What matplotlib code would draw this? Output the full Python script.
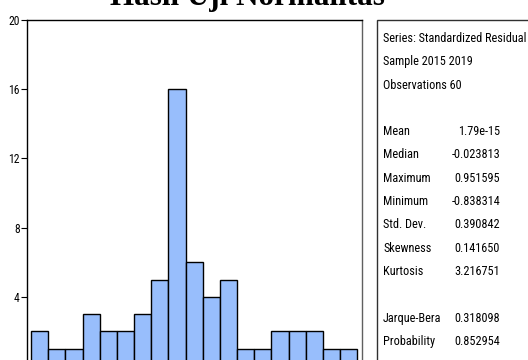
import matplotlib
matplotlib.use("Agg")
import matplotlib.pyplot as plt
from matplotlib import font_manager
from matplotlib.patches import Rectangle

# Histogram of standardized residuals (bin lower edges, width 0.1)
bin_lower = [-0.9, -0.8, -0.7, -0.6, -0.5, -0.4, -0.3, -0.2, -0.1, 0.0,
             0.1, 0.2, 0.3, 0.4, 0.5, 0.6, 0.7, 0.8, 0.9]
counts = [2, 1, 1, 3, 2, 2, 3, 5, 16, 6, 4, 5, 1, 1, 2, 2, 2, 1, 1]
bin_width = 0.1

y_ticks = [0, 4, 8, 12, 16, 20]
x_ticks = [-0.75, -0.50, -0.25, 0.00, 0.25, 0.50, 0.75, 1.00]

title = "Hasil Uji Normalitas"
header_lines = ["Series: Standardized Residual", "Sample 2015 2019", "Observations 60"]
stat_names = ["Mean", "Median", "Maximum", "Minimum", "Std. Dev.", "Skewness", "Kurtosis"]
stat_values = ["1.79e-15", "-0.023813", "0.951595", "-0.838314", "0.390842", "0.141650", "3.216751"]
test_names = ["Jarque-Bera", "Probability"]
test_values = ["0.318098", "0.852954"]

# Pick a condensed sans face if one is installed
installed = {f.name for f in font_manager.fontManager.ttflist}
narrow = None
for cand in ["Liberation Sans Narrow", "Arial Narrow", "Roboto Condensed",
             "Open Sans Condensed", "DejaVu Sans Condensed"]:
    if cand in installed:
        narrow = cand
        break
if narrow is None:
    narrow = "Liberation Sans"
    scale = 0.78
elif narrow == "Liberation Sans Narrow" or narrow == "Arial Narrow":
    scale = 1.0
else:
    scale = 0.88

W, H = 528, 360
fig = plt.figure(figsize=(W / 100, H / 100), dpi=100)
fig.patch.set_facecolor("white")

ax = fig.add_axes([27.3 / W, (H - 366) / H, (361.7 - 27.3) / W, (366 - 20) / H])
ax.bar(bin_lower, counts, width=bin_width, align="edge",
       color="#98BEFC", edgecolor="black", linewidth=1.0, zorder=2)
ax.set_xlim(-0.9215, 1.0256)
ax.set_ylim(0, 20)
ax.set_yticks(y_ticks)
ax.set_yticklabels([str(v) for v in y_ticks], fontfamily=narrow, fontsize=9.5 * scale)
ax.set_xticks(x_ticks)
ax.set_xticklabels([])
ax.tick_params(axis="y", direction="out", length=4, width=0.8, pad=1.5)
ax.tick_params(axis="x", direction="out", length=4, width=0.8)
for side in ["left", "top", "bottom"]:
    ax.spines[side].set_color("black")
    ax.spines[side].set_linewidth(1.0)
ax.spines["right"].set_color("#606060")
ax.spines["right"].set_linewidth(1.0)

fig.text(247 / W, (H - 5) / H, title, ha="center", va="baseline",
         fontfamily="Liberation Serif", fontweight="bold", fontsize=22.4)

# Statistics panel
box = Rectangle((377 / W, (H - 380) / H), 200 / W, 360 / H, transform=fig.transFigure,
                facecolor="white", edgecolor="#303030", linewidth=1.0, clip_on=False)
fig.patches.append(box)

row_h = 23.3
y0 = 38.5
label_x = 383 / W
value_x = 500 / W
fs = 10 * scale

rows = []
for t in header_lines:
    rows.append((t, None))
rows.append((None, None))
for n, v in zip(stat_names, stat_values):
    rows.append((n, v))
rows.append((None, None))
for n, v in zip(test_names, test_values):
    rows.append((n, v))

for i, (name, val) in enumerate(rows):
    y = (H - (y0 + i * row_h)) / H
    if name:
        fig.text(label_x, y, name, ha="left", va="center", fontfamily=narrow, fontsize=fs)
    if val:
        fig.text(value_x, y, val, ha="right", va="center", fontfamily=narrow, fontsize=fs)

fig.savefig("out.png", dpi=100)
